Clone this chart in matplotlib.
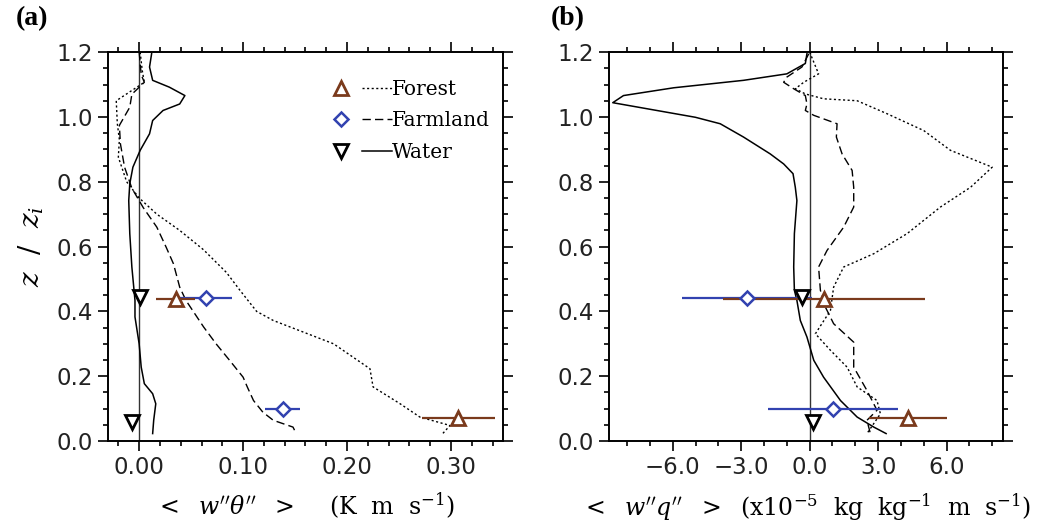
import numpy as np
import matplotlib
matplotlib.use("Agg")
from matplotlib import pyplot as plt
from matplotlib.ticker import MultipleLocator
from matplotlib.lines import Line2D
from matplotlib.legend_handler import HandlerTuple

plt.rcParams['mathtext.fontset'] = 'dejavuserif'

# ---- panel (a): heat flux profiles ----
a_forest_z = [1.2, 1.143, 1.107, 1.05, 0.98, 0.93, 0.876, 0.80, 0.75, 0.70, 0.65, 0.59, 0.52,
              0.465, 0.40, 0.372, 0.341, 0.30, 0.223, 0.167, 0.115, 0.074, 0.048, 0.023]
a_forest_x = [0.001, 0.003, 0.005, -0.022, -0.021, -0.019, -0.020, -0.012, 0.0, 0.017, 0.039, 0.062, 0.084,
              0.097, 0.113, 0.129, 0.154, 0.187, 0.222, 0.225, 0.251, 0.270, 0.299, 0.292]

a_farm_z = [1.2, 1.13, 1.107, 1.07, 1.03, 0.974, 0.917, 0.845, 0.78, 0.72, 0.66, 0.598, 0.547, 0.475,
            0.434, 0.352, 0.30, 0.249, 0.197, 0.167, 0.125, 0.089, 0.064, 0.043, 0.023]
a_farm_x = [0.0, 0.002, 0.005, -0.007, -0.009, -0.019, -0.018, -0.014, -0.007, 0.004, 0.017, 0.026, 0.033, 0.039,
            0.045, 0.062, 0.074, 0.087, 0.100, 0.104, 0.110, 0.119, 0.129, 0.148, 0.151]

a_water_z = [1.195, 1.154, 1.113, 1.092, 1.066, 1.04, 1.02, 0.989, 0.948, 0.897, 0.845, 0.794, 0.742, 0.64,
             0.537, 0.434, 0.383, 0.30, 0.228, 0.177, 0.146, 0.115, 0.064, 0.023]
a_water_x = [0.012, 0.010, 0.013, 0.029, 0.044, 0.039, 0.023, 0.013, 0.010, 0.001, -0.006, -0.009, -0.010, -0.009,
             -0.007, -0.004, -0.004, 0.0, 0.002, 0.005, 0.013, 0.016, 0.014, 0.013]

# observations (x, z, half-width of bar)
a_forest_obs = ([0.035, 0.307], [0.437, 0.070], [0.019, 0.035])
a_farm_obs = ([0.064, 0.138], [0.441, 0.098], [0.025, 0.017])
a_water_obs = ([0.001, -0.007], [0.443, 0.059], [0.0, 0.0])

# ---- panel (b): moisture flux profiles ----
b_forest_z = [1.2, 1.133, 1.107, 1.087, 1.071, 1.056, 1.05, 1.01, 0.958, 0.897, 0.845, 0.783, 0.722, 0.64,
              0.578, 0.537, 0.475, 0.403, 0.331, 0.28, 0.228, 0.167, 0.125, 0.084, 0.023]
b_forest_x = [0.0, 0.39, -0.26, -0.63, -0.19, 0.61, 2.08, 3.39, 5.0, 6.17, 8.0, 7.05, 5.73, 4.27,
              2.81, 1.49, 1.05, 0.91, 0.25, 0.91, 1.64, 2.08, 2.95, 3.1, 2.51]

b_farm_z = [1.195, 1.154, 1.123, 1.107, 1.087, 1.066, 1.04, 1.02, 1.005, 0.979, 0.938, 0.886, 0.835, 0.783,
            0.722, 0.66, 0.588, 0.537, 0.465, 0.413, 0.362, 0.305, 0.228, 0.156, 0.095, 0.064, 0.023]
b_farm_x = [-0.04, -0.34, -1.0, -1.14, -0.70, -0.19, -0.12, -0.19, 0.18, 1.2, 1.17, 1.42, 1.86, 1.93,
            1.93, 1.49, 0.76, 0.39, 0.47, 0.69, 1.05, 1.93, 1.93, 2.51, 2.95, 2.51, 2.66]

b_water_z = [1.195, 1.165, 1.133, 1.113, 1.09, 1.066, 1.044, 1.02, 0.999, 0.979, 0.938, 0.886, 0.855, 0.825,
             0.783, 0.742, 0.64, 0.537, 0.465, 0.434, 0.372, 0.321, 0.249, 0.197, 0.125, 0.074, 0.043, 0.023]
b_water_x = [-0.12, -0.19, -1.0, -2.9, -5.96, -8.16, -8.63, -6.7, -5.01, -3.92, -2.9, -1.73, -1.14, -0.73,
             -0.63, -0.56, -0.67, -0.70, -0.67, -0.56, -0.41, -0.12, 0.18, 0.61, 1.35, 2.08, 2.81, 3.35]

b_forest_obs = ([0.62, 4.3], [0.437, 0.070], [4.42, 1.72])
b_farm_obs = ([-2.75, 1.01], [0.441, 0.098], [2.85, 2.85])
b_water_obs = ([-0.34, 0.13], [0.443, 0.059], [0.0, 0.0])

brown = '#7a3a1c'
blue = '#3242b0'

fig = plt.figure(figsize=(10.48, 5.32), dpi=100)
ax1 = fig.add_axes([0.103, 0.171, 0.377, 0.731])
ax2 = fig.add_axes([0.581, 0.171, 0.376, 0.731])

dot = (0, (1.5, 1.8))
dash = (0, (6, 3))


def draw(ax, fz, fx, mz, mx, wz, wx, fobs, mobs, wobs):
    ax.axvline(0, color='#333333', lw=1.0, zorder=1)
    ax.plot(fx, fz, color='k', lw=1.0, ls=dot)
    ax.plot(mx, mz, color='k', lw=1.0, ls=dash)
    ax.plot(wx, wz, color='k', lw=1.1)
    # bars first so markers sit on top
    for (x, z, e), c in [(mobs, blue), (fobs, brown)]:
        ax.hlines(z, np.array(x) - np.array(e), np.array(x) + np.array(e), color=c, lw=1.6)
    ax.plot(wobs[0], wobs[1], ls='none', marker='v', ms=10, mfc='white', mec='k', mew=2)
    ax.plot(mobs[0], mobs[1], ls='none', marker='D', ms=7.5, mfc='white', mec=blue, mew=1.8)
    ax.plot(fobs[0], fobs[1], ls='none', marker='^', ms=10, mfc='white', mec=brown, mew=2)
    ax.set_ylim(0, 1.2)
    ax.yaxis.set_major_locator(MultipleLocator(0.2))
    ax.yaxis.set_minor_locator(MultipleLocator(0.05))
    ax.yaxis.set_major_formatter(plt.FormatStrFormatter('%.1f'))
    ax.tick_params(which='both', direction='out', top=True, right=True, labelsize=16.5, width=1.2,
                   labelcolor='#222222')
    ax.tick_params(which='major', length=7)
    ax.tick_params(which='minor', length=3.8)
    for s in ax.spines.values():
        s.set_linewidth(1.4)


draw(ax1, a_forest_z, a_forest_x, a_farm_z, a_farm_x, a_water_z, a_water_x,
     a_forest_obs, a_farm_obs, a_water_obs)
draw(ax2, b_forest_z, b_forest_x, b_farm_z, b_farm_x, b_water_z, b_water_x,
     b_forest_obs, b_farm_obs, b_water_obs)

ax1.set_xlim(-0.03, 0.35)
ax1.xaxis.set_major_locator(MultipleLocator(0.1))
ax1.xaxis.set_minor_locator(MultipleLocator(0.02))
ax1.xaxis.set_major_formatter(plt.FormatStrFormatter('%.2f'))

ax2.set_xlim(-8.8, 8.47)
ax2.xaxis.set_major_locator(MultipleLocator(3.0))
ax2.xaxis.set_minor_locator(MultipleLocator(1.0))
ax2.xaxis.set_major_formatter(plt.FuncFormatter(lambda v, p: ('%.1f' % v).replace('-', '\u2212')))

ax1.set_xlabel(r"$<\ \ w''\theta''\ \ >\ \ \ \ (\mathrm{K\ \ m\ \ s^{-1}})$", fontsize=17, labelpad=9)
ax2.set_xlabel(r"$<\ \ w''q''\ \ >\ \ (\mathrm{x10^{-5}\ \ kg\ \ kg^{-1}\ \ m\ \ s^{-1}})$", fontsize=17, labelpad=9)
ax1.set_ylabel(r"$z\ \ /\ \ z_i$", fontsize=20, labelpad=8)

# legend: marker, line, label
handles = [
    (Line2D([], [], ls='none', marker='^', ms=10, mfc='white', mec=brown, mew=2),
     Line2D([], [], color='k', lw=1.0, ls=dot)),
    (Line2D([], [], ls='none', marker='D', ms=7.5, mfc='white', mec=blue, mew=1.8),
     Line2D([], [], color='k', lw=1.0, ls=dash)),
    (Line2D([], [], ls='none', marker='v', ms=10, mfc='white', mec='k', mew=2),
     Line2D([], [], color='k', lw=1.1)),
]
ax1.legend(handles, ['Forest', 'Farmland', 'Water'],
           handler_map={tuple: HandlerTuple(ndivide=None, pad=0.3)},
           loc='upper left', bbox_to_anchor=(0.505, 0.975), frameon=False,
           handlelength=3.3, handletextpad=0.0, labelspacing=0.62,
           prop={'family': 'DejaVu Serif', 'size': 14.5})

fig.text(0.015, 0.988, '(a)', fontsize=20, fontweight='bold', family='Liberation Serif', va='top')
fig.text(0.526, 0.988, '(b)', fontsize=20, fontweight='bold', family='Liberation Serif', va='top')

fig.savefig('out.png', dpi=100)
